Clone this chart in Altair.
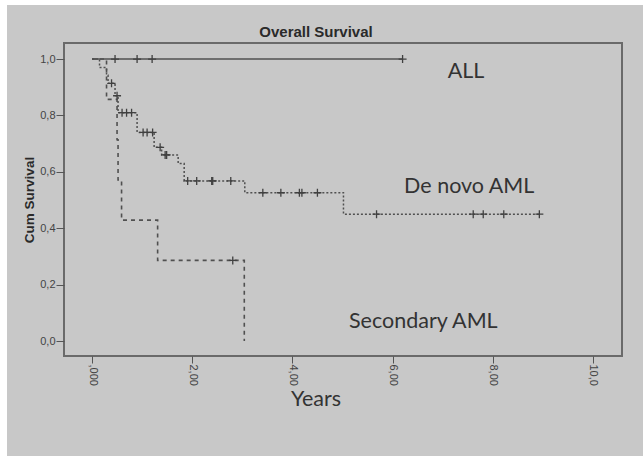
import altair as alt
import pandas as pd

# ---- data ----
all_t = [0.0, 6.2]
all_s = [1.0, 1.0]
all_cens_t = [0.46, 0.9, 1.2, 6.2]
all_cens_s = [1.0, 1.0, 1.0, 1.0]

denovo_t = [0.0, 0.15, 0.29, 0.32, 0.46, 0.52, 0.9, 1.24, 1.39, 1.72, 1.84, 3.05, 5.02, 8.93]
denovo_s = [1.0, 0.97, 0.943, 0.914, 0.87, 0.81, 0.74, 0.687, 0.66, 0.63, 0.568, 0.526, 0.45, 0.45]
denovo_cens_t = [0.39, 0.5, 0.6, 0.69, 0.79, 1.02, 1.1, 1.21, 1.36, 1.46, 1.49,
                 1.91, 2.09, 2.39, 2.41, 2.77, 3.41, 3.77, 4.14, 4.19, 4.5,
                 5.68, 7.61, 7.81, 8.22, 8.93]
denovo_cens_s = [0.914, 0.87, 0.81, 0.81, 0.81, 0.74, 0.74, 0.74, 0.687, 0.66, 0.66,
                 0.568, 0.568, 0.568, 0.568, 0.568, 0.526, 0.526, 0.526, 0.526, 0.526,
                 0.45, 0.45, 0.45, 0.45, 0.45]

sec_t = [0.0, 0.29, 0.5, 0.52, 0.59, 1.31, 3.04]
sec_s = [1.0, 0.857, 0.714, 0.571, 0.429, 0.286, 0.0]
sec_cens_t = [2.81]
sec_cens_s = [0.286]

x_ticks = [0, 2, 4, 6, 8, 10]
y_ticks = [0.0, 0.2, 0.4, 0.6, 0.8, 1.0]

group_labels = ["ALL", "De novo AML", "Secondary AML"]
label_t = [7.1, 6.23, 5.13]
label_s = [0.954, 0.546, 0.067]

# ---- layout ----
W, H = 558, 313
PL, PT, PR, PB = 64, 43, 21, 100
LINE = "#505050"

xs = alt.Scale(domain=[-0.559, 10.58], nice=False, zero=False)
ys = alt.Scale(domain=[-0.053, 1.057], nice=False, zero=False)

xlabel = ("datum.value == 0 ? ',000' : datum.value == 10 ? '10,0' : "
          "replace(format(datum.value, '.2f'), '.', ',')")
ylabel = "replace(format(datum.value, '.1f'), '.', ',')"

X = alt.X("t:Q", scale=xs, axis=alt.Axis(values=x_ticks, labelExpr=xlabel, labelAngle=90,
                                          title=None, grid=False, domain=False, tickSize=7,
                                          tickColor="#555", labelColor="#444", labelFontSize=11,
                                          labelFont="Liberation Sans", zindex=2, labelPadding=1))
Y = alt.Y("s:Q", scale=ys, axis=alt.Axis(values=y_ticks, labelExpr=ylabel, title=None,
                                          grid=False, domain=False, tickSize=8,
                                          tickColor="#555", labelColor="#444", labelFontSize=11,
                                          labelFont="Liberation Sans", zindex=2, labelPadding=1))


def df(t, s):
    return pd.DataFrame({"t": t, "s": s})


bg = alt.Chart(df([0], [0])).mark_rect(color="#c8c8c8").encode(
    x=alt.value(7 - PL), x2=alt.value(643 - PL), y=alt.value(5 - PT), y2=alt.value(456 - PT))

frame = alt.Chart(df([0], [0])).mark_rect(fill=None, stroke="#6a6a6a", strokeWidth=2).encode(
    x=alt.value(0), x2=alt.value(W), y=alt.value(0), y2=alt.value(H))

line_all = alt.Chart(df(all_t, all_s)).mark_line(
    interpolate="step-after", color=LINE, strokeWidth=1.4).encode(x=X, y=Y)
line_dn = alt.Chart(df(denovo_t, denovo_s)).mark_line(
    interpolate="step-after", color=LINE, strokeWidth=1.5, strokeDash=[2, 2]).encode(x=X, y=Y)
line_sec = alt.Chart(df(sec_t, sec_s)).mark_line(
    interpolate="step-after", color=LINE, strokeWidth=1.6, strokeDash=[4, 4]).encode(x=X, y=Y)

cross = "M-1,0H1M0,-1V1"
cens = df(all_cens_t + denovo_cens_t + sec_cens_t, all_cens_s + denovo_cens_s + sec_cens_s)
marks = alt.Chart(cens).mark_point(shape=cross, size=64, filled=False, color="#404040",
                                   strokeWidth=1.3, opacity=1).encode(x=X, y=Y)

labels = alt.Chart(pd.DataFrame({"t": label_t, "s": label_s, "lab": group_labels})).mark_text(
    align="left", baseline="middle", font="Lato", fontSize=21.5, color="#333").encode(
    x=X, y=Y, text="lab:N")

title = alt.Chart(df([0], [0])).mark_text(font="Liberation Sans", fontSize=15, fontWeight="bold",
                                          color="#2a2a2a", baseline="middle").encode(
    x=alt.value(316 - PL), y=alt.value(32 - PT), text=alt.value("Overall Survival"))
ytitle = alt.Chart(df([0], [0])).mark_text(font="Liberation Sans", fontSize=13.5, fontWeight="bold",
                                           color="#2a2a2a", angle=270, baseline="middle").encode(
    x=alt.value(30 - PL), y=alt.value(200 - PT), text=alt.value("Cum Survival"))
xtitle = alt.Chart(df([0], [0])).mark_text(font="Lato", fontSize=21.5, color="#333",
                                           baseline="middle").encode(
    x=alt.value(316 - PL), y=alt.value(400 - PT), text=alt.value("Years"))

chart = alt.layer(bg, frame, line_all, line_dn, line_sec, marks, labels, title, ytitle, xtitle).properties(
    width=W, height=H,
    autosize=alt.AutoSizeParams(type="none"),
    padding={"left": PL, "top": PT, "right": PR, "bottom": PB},
    background="white",
).configure_view(stroke=None)

chart.save("out.html", embed_options={"renderer": "svg", "actions": False})
